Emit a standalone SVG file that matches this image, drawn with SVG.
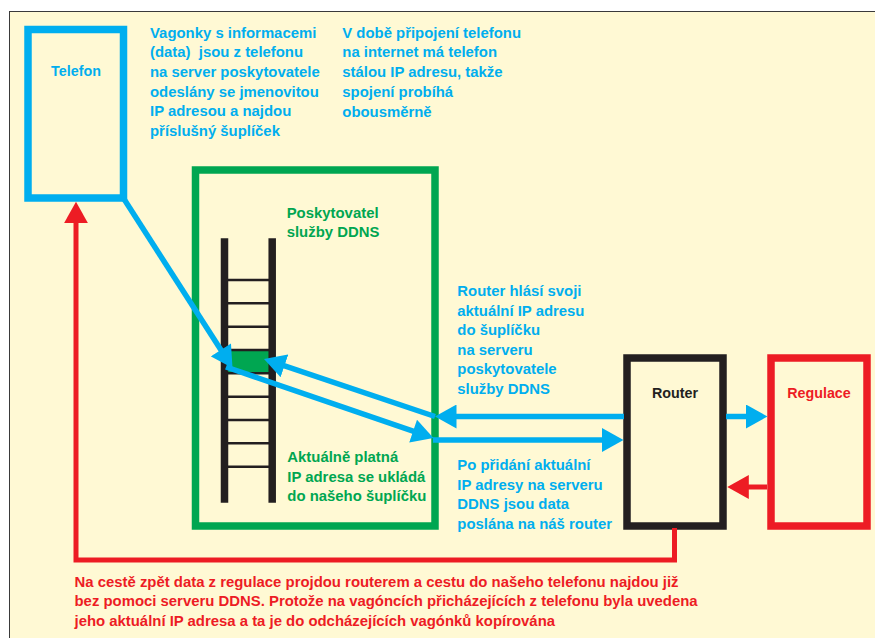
<svg xmlns="http://www.w3.org/2000/svg" width="875" height="638" viewBox="0 0 875 638">
<style>
  text { font-family: "Liberation Sans", Arial, sans-serif; font-weight: bold; }
  .b { fill: #00AEEF; font-size: 14.9px; }
  .g { fill: #00A651; font-size: 14.9px; }
  .r { fill: #ED1C24; font-size: 14.9px; }
  .lbl { font-size: 14.3px; text-anchor: middle; }
  .box { fill: none; stroke-width: 7.5; }
  .cb { fill: none; stroke: #00AEEF; stroke-width: 5.5; }
  .cr { fill: none; stroke: #ED1C24; stroke-width: 5; stroke-linejoin: miter; }
  .rail { stroke: #231F20; stroke-width: 7.5; }
  .rung { stroke: #231F20; stroke-width: 2.5; }
</style>
<defs>
  <marker id="ab" markerUnits="userSpaceOnUse" markerWidth="22" markerHeight="24" viewBox="0 0 21.5 24" refX="11.5" refY="12" orient="auto">
    <path d="M0,0 L21.5,12 L0,24 z" fill="#00AEEF"/>
  </marker>
  <marker id="ar" markerUnits="userSpaceOnUse" markerWidth="22" markerHeight="24" viewBox="0 0 21.5 24" refX="11.5" refY="12" orient="auto">
    <path d="M0,0 L21.5,12 L0,24 z" fill="#ED1C24"/>
  </marker>
</defs>

<rect x="0" y="0" width="875" height="638" fill="#FFFFFF"/>
<rect x="9.5" y="11.5" width="870" height="640" fill="#FFF9D4" stroke="#3A3A3A" stroke-width="1"/>

<g id="telefon">
  <rect class="box" x="28" y="29.5" width="95.5" height="168.5" stroke="#00AEEF"/>
  <text class="lbl" x="76" y="76" fill="#00AEEF">Telefon</text>
</g>

<g id="ddns">
  <rect class="box" x="195.5" y="170" width="239.5" height="356" stroke="#00A651"/>
  <rect x="228" y="350" width="41" height="23.3" fill="#00A651"/>
  <line class="rung" x1="228" y1="280" x2="269" y2="280"/>
  <line class="rung" x1="228" y1="303.3" x2="269" y2="303.3"/>
  <line class="rung" x1="228" y1="326.7" x2="269" y2="326.7"/>
  <line class="rung" x1="228" y1="350" x2="269" y2="350"/>
  <line class="rung" x1="228" y1="373.3" x2="269" y2="373.3"/>
  <line class="rung" x1="228" y1="396.7" x2="269" y2="396.7"/>
  <line class="rung" x1="228" y1="420" x2="269" y2="420"/>
  <line class="rung" x1="228" y1="443.3" x2="269" y2="443.3"/>
  <line class="rung" x1="228" y1="466.7" x2="269" y2="466.7"/>
  <line class="rail" x1="224.5" y1="238.3" x2="224.5" y2="502.7"/>
  <line class="rail" x1="272.2" y1="238.3" x2="272.2" y2="502.7"/>
  <text class="g"><tspan x="286.7" y="217.7">Poskytovatel</tspan><tspan x="286.7" y="237.3">služby DDNS</tspan></text>
  <text class="g"><tspan x="287.3" y="462.3">Aktuálně platná</tspan><tspan x="287.3" y="481.6">IP adresa se ukládá</tspan><tspan x="287.3" y="500.9">do našeho šuplíčku</tspan></text>
</g>

<g id="router">
  <rect class="box" x="627" y="358" width="96" height="168" stroke="#231F20"/>
  <text class="lbl" x="675" y="398.3" fill="#231F20">Router</text>
</g>

<g id="regulace">
  <rect class="box" x="771" y="358" width="96" height="168" stroke="#ED1C24"/>
  <text class="lbl" x="819" y="398.3" fill="#ED1C24">Regulace</text>
</g>

<g id="connectors">
  <line class="cb" x1="124" y1="199" x2="227.1" y2="359.6" marker-end="url(#ab)"/>
  <line class="cb" x1="226" y1="367" x2="424" y2="434.8" marker-end="url(#ab)"/>
  <line class="cb" x1="433" y1="440" x2="613.5" y2="440" marker-end="url(#ab)"/>
  <line class="cb" x1="624" y1="416.5" x2="445" y2="416.5" marker-end="url(#ab)"/>
  <line class="cb" x1="435" y1="416.5" x2="273.5" y2="362.2" marker-end="url(#ab)"/>
  <line class="cb" x1="726" y1="416.5" x2="757.5" y2="416.5" marker-end="url(#ab)"/>
  <line class="cr" x1="767" y1="487" x2="737.3" y2="487" marker-end="url(#ar)"/>
  <path class="cr" d="M674.5,528 V560 H76 V211.7" marker-end="url(#ar)"/>
</g>

<g id="notes">
  <text class="b"><tspan x="150" y="37.7">Vagonky s informacemi</tspan><tspan x="150" y="57.3">(data)&#160; jsou z telefonu</tspan><tspan x="150" y="76.9">na server poskytovatele</tspan><tspan x="150" y="96.5">odeslány se jmenovitou</tspan><tspan x="150" y="116.1">IP adresou a najdou</tspan><tspan x="150" y="135.7">příslušný šuplíček</tspan></text>
  <text class="b"><tspan x="342.3" y="37.5">V době připojení telefonu</tspan><tspan x="342.3" y="57.3">na internet má telefon</tspan><tspan x="342.3" y="77.1">stálou IP adresu, takže</tspan><tspan x="342.3" y="96.9">spojení probíhá</tspan><tspan x="342.3" y="116.7">obousměrně</tspan></text>
  <text class="b"><tspan x="457.3" y="296">Router hlásí svoji</tspan><tspan x="457.3" y="315.5">aktuální IP adresu</tspan><tspan x="457.3" y="335">do šuplíčku</tspan><tspan x="457.3" y="354.5">na serveru</tspan><tspan x="457.3" y="374">poskytovatele</tspan><tspan x="457.3" y="393.5">služby DDNS</tspan></text>
  <text class="b"><tspan x="457.3" y="470">Po přidání aktuální</tspan><tspan x="457.3" y="489.6">IP adresy na serveru</tspan><tspan x="457.3" y="509.2">DDNS jsou data</tspan><tspan x="457.3" y="528.8">poslána na náš router</tspan></text>
  <text class="r"><tspan x="74.5" y="586.5">Na cestě zpět data z regulace projdou routerem a cestu do našeho telefonu najdou již</tspan><tspan x="74.5" y="606">bez pomoci serveru DDNS. Protože na vagóncích přicházejících z telefonu byla uvedena</tspan><tspan x="74.5" y="625.5">jeho aktuální IP adresa a ta je do odcházejících vagónků kopírována</tspan></text>
</g>
</svg>
